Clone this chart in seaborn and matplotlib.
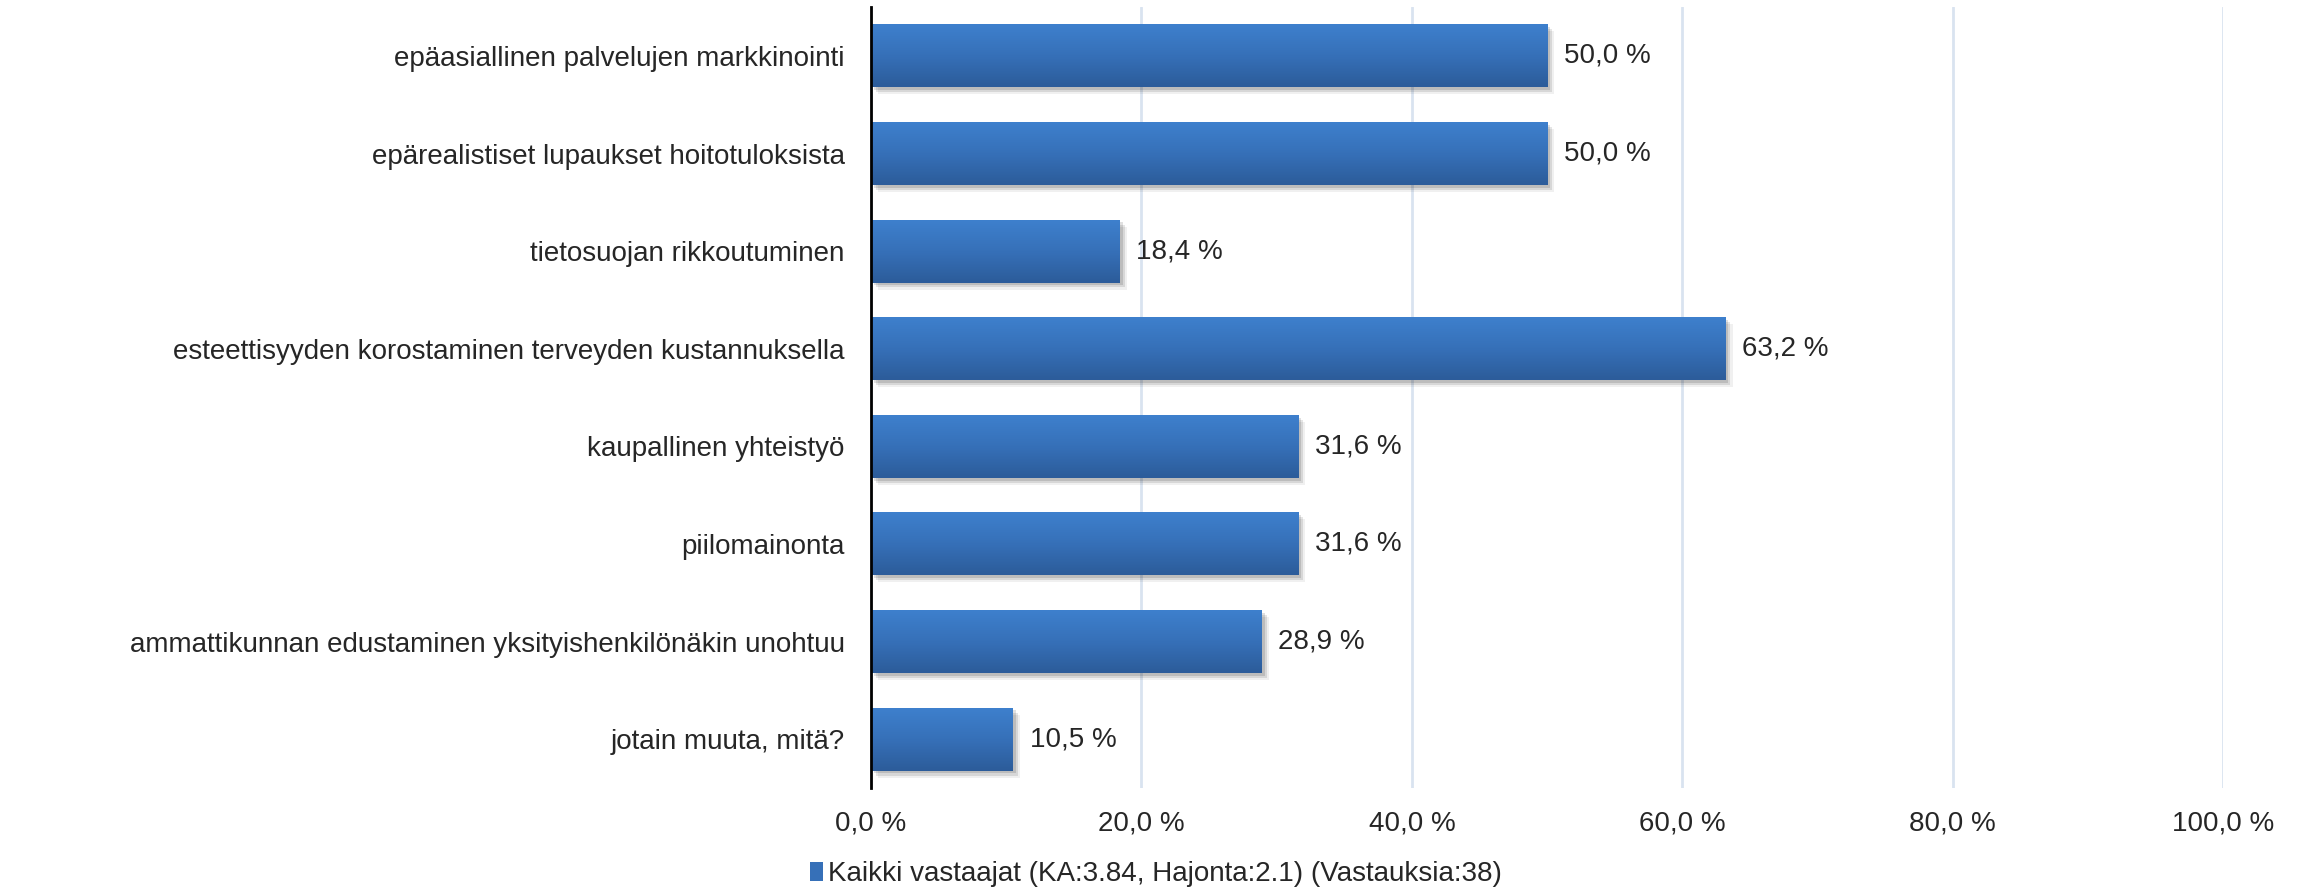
import numpy as np
import pandas as pd
import matplotlib
matplotlib.use("Agg")
import matplotlib.pyplot as plt
import matplotlib.patheffects as pe
from matplotlib.colors import LinearSegmentedColormap
from matplotlib.patches import Patch
import seaborn as sns

categories = [
    "epäasiallinen palvelujen markkinointi",
    "epärealistiset lupaukset hoitotuloksista",
    "tietosuojan rikkoutuminen",
    "esteettisyyden korostaminen terveyden kustannuksella",
    "kaupallinen yhteistyö",
    "piilomainonta",
    "ammattikunnan edustaminen yksityishenkilönäkin unohtuu",
    "jotain muuta, mitä?",
]
values = [50.0, 50.0, 18.4, 63.2, 31.6, 31.6, 28.9, 10.5]
series_name = "Kaikki vastaajat (KA:3.84, Hajonta:2.1) (Vastauksia:38)"
x_ticks = [0, 20, 40, 60, 80, 100]

top_col = "#3e80cd"
mid_col = "#3670b8"
bot_col = "#2c5c9a"
fsize = 20

sns.set_style("white")
plt.rcParams["font.family"] = ["Liberation Sans", "DejaVu Sans"]

df = pd.DataFrame({"category": categories, "value": values})

fig = plt.figure(figsize=(23.11, 8.91), dpi=100)
ax = fig.add_axes([0.3769, 0.1156, 0.962 - 0.3769, 0.992 - 0.1156])

sns.barplot(data=df, x="value", y="category", orient="h", color=mid_col,
            saturation=1, width=0.645, ax=ax, zorder=2, linewidth=0)

# gradient fill + soft shadow on each bar
cmap = LinearSegmentedColormap.from_list("bar", [top_col, mid_col, bot_col])
grad = np.linspace(0, 1, 100).reshape(-1, 1)
for bar in ax.patches:
    x, y = bar.get_x(), bar.get_y()
    w, h = bar.get_width(), bar.get_height()
    bar.set_path_effects([
        pe.SimplePatchShadow(offset=(5, -5), shadow_rgbFace="black", alpha=0.06),
        pe.SimplePatchShadow(offset=(3.5, -3.5), shadow_rgbFace="black", alpha=0.1),
        pe.SimplePatchShadow(offset=(2, -2), shadow_rgbFace="black", alpha=0.12),
        pe.Normal()])
    im = ax.imshow(grad, cmap=cmap, aspect="auto", origin="upper",
                   extent=(x, x + w, y + h, y), zorder=2.5, interpolation="bicubic")
    im.set_clip_path(bar)

ax.set_xlim(0, 100)
ax.set_ylim(len(categories) - 0.5, -0.5)
ax.set_xticks(x_ticks)
ax.set_xticklabels([f"{t:.1f}".replace(".", ",") + " %" for t in x_ticks])
ax.xaxis.grid(True, color="#d9e3f0", linewidth=2)
ax.set_axisbelow(True)
ax.tick_params(axis="x", length=0, pad=16, labelsize=fsize)
ax.tick_params(axis="y", length=0, pad=19, labelsize=fsize)
ax.set_xlabel("")
ax.set_ylabel("")

for side in ["top", "right", "bottom"]:
    ax.spines[side].set_visible(False)
ax.spines["left"].set_color("black")
ax.spines["left"].set_linewidth(2)
ax.spines["left"].set_zorder(5)

ax.bar_label(ax.containers[0], labels=[f"{v:.1f}".replace(".", ",") + " %" for v in values],
             padding=12, fontsize=fsize)

handle = Patch(facecolor=mid_col, edgecolor="none")
fig.legend(handles=[handle], labels=[series_name], loc="center",
           bbox_to_anchor=(0.5, 1 - 874 / 891), frameon=False, fontsize=fsize,
           handlelength=0.5, handleheight=0.7, handletextpad=0.15)

fig.savefig("out.png", dpi=100)
